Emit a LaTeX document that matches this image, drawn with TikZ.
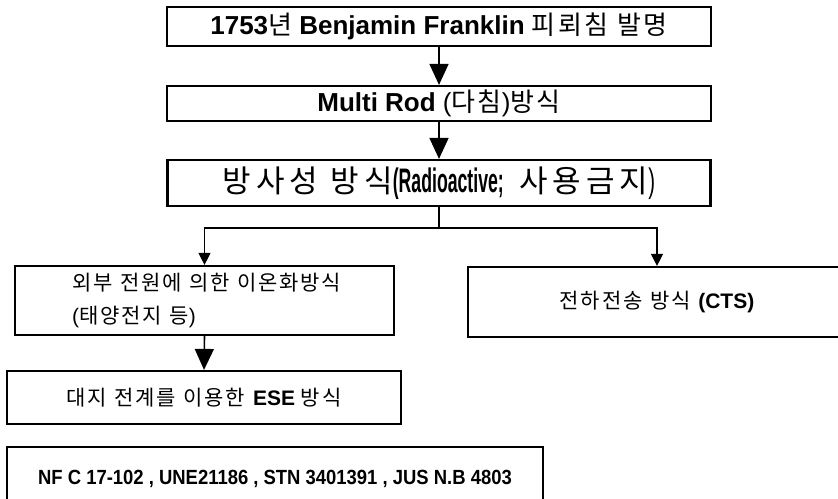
\documentclass[tikz,border=0pt]{standalone}
\usepackage{fontspec}
\setmainfont{Liberation Sans}
\newfontfamily\ko[LetterSpace=9]{Noto Sans CJK KR}
\newfontfamily\kowide[LetterSpace=16]{Noto Sans CJK KR}
\newfontface\narrowb[FakeStretch=0.52]{Liberation Sans Bold}
\newfontface\narrowr[FakeStretch=0.6]{Liberation Sans}
\newfontface\condb[FakeStretch=0.9]{Liberation Sans Bold}
\newcommand{\K}[1]{{\ko\mdseries #1}}
\newcommand{\KW}[1]{{\kowide\mdseries #1}}
\newcommand{\ksp}{\hspace{0.35em}}
\usetikzlibrary{arrows.meta}
\begin{document}
\begin{tikzpicture}[x=1pt,y=-1pt,
  box/.style={draw, line width=2.2pt, rectangle, inner sep=0pt},
  bigarr/.style={line width=1.6pt, -{Triangle[length=21pt,width=19pt]}},
  smallarr/.style={line width=1.3pt, -{Triangle[length=12pt,width=12pt]}},
  plain/.style={line width=1.3pt}]
\useasboundingbox (0,0) rectangle (838,498);
\fill[white] (0,0) rectangle (838,498);

\node[box, minimum width=544pt, minimum height=39pt] (b1) at (439,26.5)
  {\fontsize{26}{30}\selectfont\bfseries 1753\K{년} Benjamin Franklin \K{피뢰침}\ksp\K{발명}};
\node[box, minimum width=544pt, minimum height=35pt] (b2) at (439,103.5)
  {\fontsize{26}{30}\selectfont\textbf{Multi Rod} (\K{다침})\K{방식}};
\node[box, minimum width=543pt, minimum height=46pt] (b3) at (439,183)
  {\fontsize{31}{36}\selectfont\KW{방사성}\hspace{0.4em}\KW{방식}{\narrowb\fontsize{34}{38}\selectfont(Radioactive;}\hspace{0.5em}\KW{사용금지}{\narrowr\fontsize{34}{38}\selectfont)}};

\node[box, minimum width=379pt, minimum height=69pt] (b4) at (204.5,300.5) {};
\node[anchor=west, inner sep=0pt] (t4a) at (72,283)
  {\fontsize{21}{25}\selectfont\K{외부}\ksp\K{전원에}\ksp\K{의한}\ksp\K{이온화방식}};
\node[anchor=west, inner sep=0pt] (t4b) at (72,317)
  {\fontsize{21}{25}\selectfont(\K{태양전지}\ksp\K{등})};

\node[box, minimum width=378pt, minimum height=70pt] (b5) at (657,302)
  {\fontsize{21}{25}\selectfont\K{전하전송}\ksp\K{방식} \textbf{(CTS)}};

\node[box, minimum width=394pt, minimum height=53pt] (b6) at (204,397.5)
  {\fontsize{21}{25}\selectfont\K{대지}\ksp\K{전계를}\ksp\K{이용한} \textbf{ESE} \K{방식}};

\node[box, minimum width=536pt, minimum height=63pt] (b7) at (275,478.5)
  {\condb\fontsize{20.5}{25}\selectfont NF C 17-102 , UNE21186 , STN 3401391 , JUS N.B 4803};

\coordinate (j) at (439,228);
\draw[bigarr] (b1.south) -- (b2.north);
\draw[bigarr] (b2.south) -- (b3.north);
\draw[plain] (b3.south) -- (j);
\draw[smallarr] (j) -| (b4.north);
\draw[smallarr] (j) -| (b5.north);
\draw[bigarr] (b4.south) -- (b6.north);
\end{tikzpicture}
\end{document}
